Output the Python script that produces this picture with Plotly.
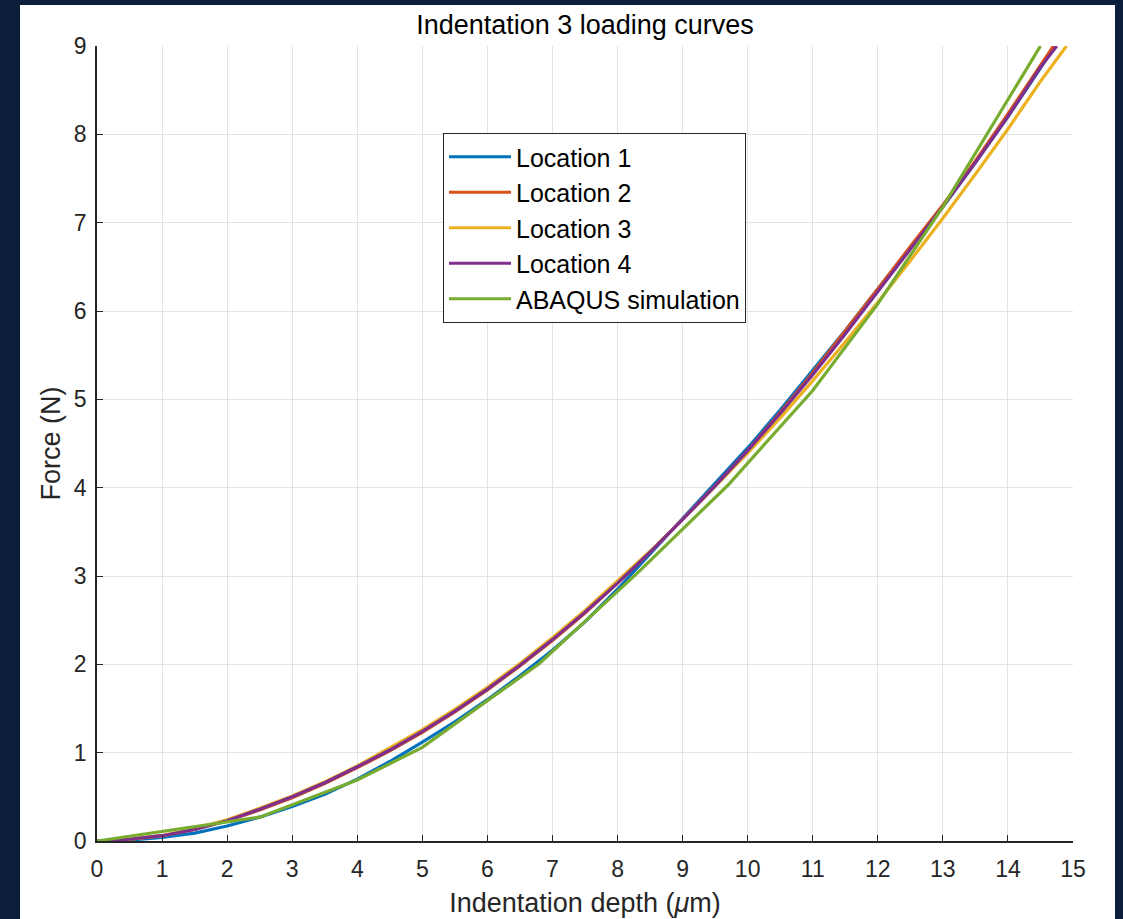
import plotly.graph_objects as go

x_loc = [0, 0.5, 1, 1.5, 2, 2.5, 3, 3.5, 4, 4.5, 5, 5.5, 6, 6.5, 7, 7.5, 8, 8.5, 9, 9.5,
         10, 10.5, 11, 11.5, 12, 12.5, 13, 13.5, 14, 14.5]
loc1_x = x_loc + [14.72]
loc1_y = [0, 0.01, 0.04, 0.09, 0.17, 0.27, 0.39, 0.53, 0.70, 0.90, 1.12, 1.35, 1.60, 1.87, 2.16,
          2.48, 2.85, 3.25, 3.65, 4.05, 4.45, 4.88, 5.33, 5.78, 6.25, 6.72, 7.18, 7.68, 8.20, 8.75, 9.0]
loc2_x = x_loc + [14.7]
loc2_y = [0, 0.02, 0.06, 0.13, 0.23, 0.35, 0.49, 0.65, 0.83, 1.02, 1.23, 1.46, 1.71, 1.98, 2.27,
          2.58, 2.92, 3.27, 3.64, 4.02, 4.42, 4.85, 5.30, 5.77, 6.25, 6.73, 7.20, 7.70, 8.23, 8.78, 9.0]
loc3_x = x_loc + [14.9]
loc3_y = [0, 0.02, 0.06, 0.14, 0.24, 0.37, 0.51, 0.67, 0.85, 1.05, 1.26, 1.49, 1.74, 2.01, 2.30,
          2.61, 2.94, 3.28, 3.64, 4.01, 4.39, 4.79, 5.21, 5.65, 6.10, 6.57, 7.05, 7.55, 8.06, 8.60, 9.0]
loc4_x = x_loc + [14.75]
loc4_y = [0, 0.02, 0.06, 0.13, 0.23, 0.36, 0.50, 0.66, 0.84, 1.03, 1.24, 1.47, 1.72, 1.99, 2.28,
          2.59, 2.92, 3.27, 3.64, 4.02, 4.42, 4.84, 5.28, 5.74, 6.22, 6.70, 7.18, 7.68, 8.20, 8.76, 9.0]
sim_x = [0, 1.6, 2.5, 4.0, 5.0, 6.8, 8.3, 9.7, 11.0, 12.0, 13.0, 14.5]
sim_y = [0, 0.17, 0.27, 0.69, 1.06, 2.01, 3.03, 4.03, 5.10, 6.08, 7.18, 9.0]

names = ["Location 1", "Location 2", "Location 3", "Location 4", "ABAQUS simulation"]
colors = ["#0072BD", "#D95319", "#EDB120", "#7E2F8E", "#77AC30"]
series = [(loc1_x, loc1_y), (loc2_x, loc2_y), (loc3_x, loc3_y), (loc4_x, loc4_y), (sim_x, sim_y)]

x_ticks = list(range(0, 16))
y_ticks = list(range(0, 10))

fig = go.Figure()
for i, ((xs, ys), n, c) in enumerate(zip(series, names, colors)):
    fig.add_trace(go.Scatter(x=xs, y=ys, mode="lines", name=n, legendgroup=f"g{i}",
                             line=dict(color=c, width=3.2)))

font_family = "Liberation Sans, Arial, sans-serif"
fig.update_layout(
    width=1123, height=919,
    margin=dict(l=97, r=50, t=46, b=78),
    paper_bgcolor="#0b1f3a",
    plot_bgcolor="white",
    font=dict(family=font_family, color="#262626", size=23),
    title=dict(text="Indentation 3 loading curves", x=0.5, xref="paper", xanchor="center",
               y=1 - 25 / 919, yanchor="middle", font=dict(size=27, color="#000000"),
               automargin=False),
    showlegend=True,
    legend=dict(x=(443 - 97) / 976, y=(841 - 133) / 795, xanchor="left", yanchor="top",
                bgcolor="white", bordercolor="#262626", borderwidth=1,
                font=dict(size=25, color="#000000"), tracegroupgap=0, itemwidth=62),
    shapes=[dict(type="rect", xref="paper", yref="paper",
                 x0=(20 - 97) / 976, x1=(1115 - 97) / 976,
                 y0=-0.2, y1=(841 - 5) / 795,
                 fillcolor="white", line=dict(width=0), layer="below")],
)
fig.update_xaxes(range=[0, 15], tickvals=x_ticks, ticks="inside", ticklen=6, tickcolor="#262626",
                 showline=True, linecolor="#262626", linewidth=1.5, mirror=False,
                 showgrid=True, gridcolor="#e3e3e3", gridwidth=1, zeroline=False,
                 automargin=False,
                 tickfont=dict(size=23, color="#262626"), ticklabelstandoff=7,
                 title=dict(text="Indentation depth (<i>μ</i>m)", font=dict(size=27, color="#262626"),
                            standoff=12))
fig.update_yaxes(range=[0, 9], tickvals=y_ticks, ticks="inside", ticklen=6, tickcolor="#262626",
                 showline=True, linecolor="#262626", linewidth=1.5, mirror=False,
                 showgrid=True, gridcolor="#e3e3e3", gridwidth=1, zeroline=False,
                 automargin=False,
                 tickfont=dict(size=23, color="#262626"), ticklabelstandoff=4,
                 title=dict(text="Force (N)", font=dict(size=27, color="#262626"), standoff=5))

fig.write_html("out.html")
